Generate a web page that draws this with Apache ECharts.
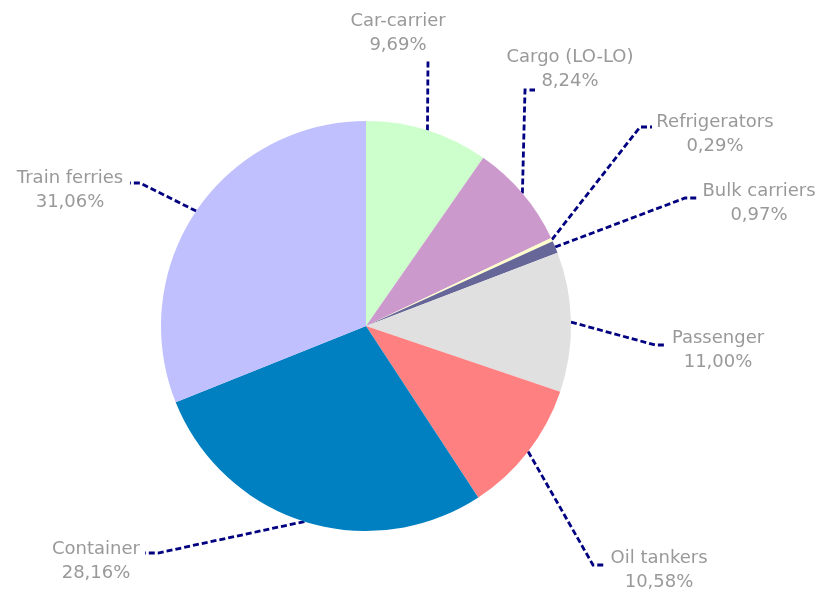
<!DOCTYPE html>
<html>
<head>
<meta charset="utf-8">
<script src="https://cdn.jsdelivr.net/npm/echarts@6/dist/echarts.min.js"></script>
<style>html,body{margin:0;padding:0;background:#fff;}#c{width:819px;height:592px;}</style>
</head>
<body>
<div id="c"></div>
<script>
const categories = ['Car-carrier','Cargo (LO-LO)','Refrigerators','Bulk carriers','Passenger','Oil tankers','Container','Train ferries'];
const shares = [9.69, 8.24, 0.29, 0.97, 11.00, 10.58, 28.16, 31.06];
const colors = ['#CCFFCC','#CC99CC','#FFFFCC','#666699','#E0E0E0','#FF8080','#0080C0','#C0C0FF'];

// label layout: text block centre, knee point and end point of leader line (pixels)
const labelPlacement = [
  {x:398, y:33,  knee:[428,60],  end:[428,60]},
  {x:570, y:69,  knee:[525,90],  end:[535,90]},
  {x:715, y:134, knee:[640,127], end:[652,127]},
  {x:759, y:203, knee:[685,198], end:[698,198]},
  {x:718, y:350, knee:[655,345], end:[666,345]},
  {x:659, y:570, knee:[593,565], end:[605,565]},
  {x:96,  y:561, knee:[158,553], end:[145,553]},
  {x:70,  y:190, knee:[140,183], end:[130,183]}
];

const chart = echarts.init(document.getElementById('c'), null, {renderer:'canvas'});
chart.setOption({
  animation:false,
  backgroundColor:'#ffffff',
  series:[{
    type:'pie',
    center:[366,326],
    radius:[0,205],
    startAngle:90,
    clockwise:true,
    avoidLabelOverlap:false,
    data: categories.map((n,i)=>({name:n, value:shares[i], itemStyle:{color:colors[i]}})),
    itemStyle:{borderWidth:0},
    label:{
      show:true,
      position:'outside',
      formatter:(p)=>p.name + '\n' + p.value.toFixed(2).replace('.', ',') + '%',
      color:'#999999',
      fontFamily:'DejaVu Sans',
      fontSize:18,
      lineHeight:24,
      align:'center'
    },
    labelLine:{
      show:true,
      length:20,
      length2:10,
      lineStyle:{color:'#000080', width:2.8, type:[6,3]}
    },
    labelLayout:function(params){
      const lp = labelPlacement[params.dataIndex];
      const start = params.labelLinePoints ? params.labelLinePoints[0] : lp.knee;
      return {
        x: lp.x, y: lp.y, align:'center', verticalAlign:'middle',
        labelLinePoints:[start, lp.knee, lp.end]
      };
    }
  }]
});
</script>
</body>
</html>
